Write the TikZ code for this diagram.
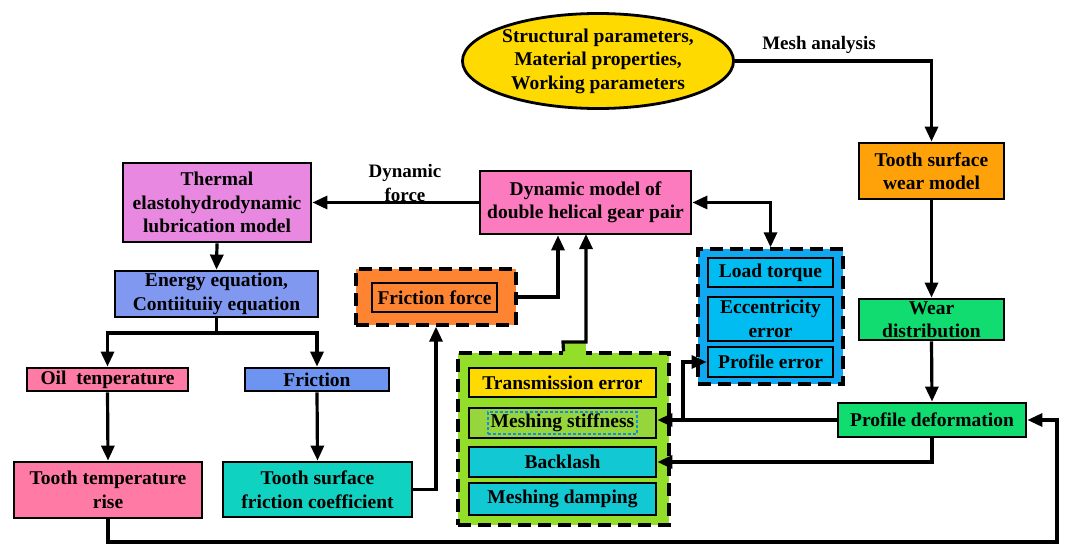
\documentclass[tikz,border=0pt]{standalone}
\usepackage{fontspec}
\setmainfont{Liberation Serif}
\usetikzlibrary{arrows.meta,shapes.geometric,calc}
\definecolor{cyel}{RGB}{255,218,0}
\definecolor{cthermal}{RGB}{232,136,224}
\definecolor{cenergy}{RGB}{128,152,240}
\definecolor{cpink}{RGB}{255,122,165}
\definecolor{cfric}{RGB}{108,148,240}
\definecolor{cteal}{RGB}{16,210,192}
\definecolor{corange}{RGB}{255,132,50}
\definecolor{cdyn}{RGB}{252,122,190}
\definecolor{cbluegrp}{RGB}{16,168,240}
\definecolor{cblue}{RGB}{0,188,240}
\definecolor{cgreengrp}{RGB}{146,222,40}
\definecolor{cstiff}{RGB}{150,214,60}
\definecolor{cturq}{RGB}{18,200,210}
\definecolor{cwear}{RGB}{255,162,10}
\definecolor{cgreen}{RGB}{16,220,112}
\definecolor{cdot}{RGB}{20,140,230}
\begin{document}
\begin{tikzpicture}[x=1pt,y=-1pt,
  every node/.style={font=\fontsize{19.5}{23.5}\selectfont\bfseries,align=center,inner sep=0pt},
  box/.style={draw=black,line width=2.8pt,rectangle},
  grp/.style={draw=black,line width=3.4pt,dash pattern=on 13pt off 7pt,rectangle},
  arr/.style={line width=3.2pt,-{Triangle[length=15pt,width=13pt]}},
  darr/.style={line width=3.2pt,{Triangle[length=15pt,width=13pt]}-{Triangle[length=15pt,width=13pt]}},
  lbl/.style={font=\fontsize{19}{24}\selectfont\bfseries}]
\useasboundingbox (0,0) rectangle (1070,556);
\fill[white] (0,0) rectangle (1070,556);

% groups
\node[grp,fill=corange,minimum width=160pt,minimum height=56pt] (ffg) at (436,297) {};
\node[grp,fill=cbluegrp,minimum width=145pt,minimum height=135pt] (bg) at (770.5,316.5) {};
\node[grp,fill=cgreengrp,minimum width=211pt,minimum height=172pt] (gg) at (563.5,439) {};
\fill[cgreengrp] (563,342) rectangle (586,356);

% main nodes
\node[ellipse,draw=black,line width=2.8pt,fill=cyel,minimum width=237pt,minimum height=95pt] (ell) at (598,61)
  {Structural parameters,\\Material properties,\\Working parameters};
\node[lbl] (mesh) at (819,45) {Mesh analysis};
\node[box,fill=cwear,minimum width=145pt,minimum height=56pt] (wear) at (931.5,171) {Tooth surface\\wear model};
\node[box,fill=cgreen,minimum width=145pt,minimum height=41pt] (wdist) at (931.5,319.5) {Wear\\distribution};
\node[box,fill=cgreen,minimum width=188pt,minimum height=34pt] (pdef) at (932,420) {Profile deformation};

\node[box,fill=cthermal,minimum width=188pt,minimum height=79pt] (therm) at (217,202.5) {Thermal\\elastohydrodynamic\\lubrication model};
\node[box,fill=cenergy,minimum width=203pt,minimum height=46pt] (energy) at (216.5,294) {Energy equation,\\Contiituiiy equation};
\node[box,fill=cpink,minimum width=161pt,minimum height=23pt] (oil) at (107.5,379.5) {Oil~~tenperature};
\node[box,fill=cfric,minimum width=144pt,minimum height=23pt] (fric) at (317,379.5) {Friction};
\node[box,fill=cpink,minimum width=188pt,minimum height=56pt] (ttr) at (108,490) {Tooth temperature\\rise};
\node[box,fill=cteal,minimum width=189pt,minimum height=55pt] (tsfc) at (317.5,489.5) {Tooth surface\\friction coefficient};

\node[box,fill=corange,minimum width=125pt,minimum height=29pt] (ff) at (434.5,297.5) {Friction force};
\node[box,fill=cdyn,minimum width=211pt,minimum height=63pt] (dyn) at (585.5,202.5) {Dynamic model of\\double helical gear pair};
\node[lbl] (dforce) at (405,183) {Dynamic\\force};

\node[box,fill=cblue,minimum width=125pt,minimum height=29pt] (load) at (770.5,272.5) {Load torque};
\node[box,fill=cblue,minimum width=125pt,minimum height=44pt] (ecc) at (770.5,319) {Eccentricity\\error};
\node[box,fill=cblue,minimum width=125pt,minimum height=30pt] (perr) at (770.5,362) {Profile error};

\node[box,fill=cyel,minimum width=187pt,minimum height=29pt] (te) at (562.5,382.5) {Transmission error};
\node[box,fill=cstiff,minimum width=187pt,minimum height=30pt] (ms) at (562.5,423) {};
\node[draw=cdot,line width=1.5pt,dash pattern=on 3pt off 2pt,minimum width=149pt,minimum height=22pt] (mstxt) at (562.5,423) {Meshing stiffness};
\node[box,fill=cturq,minimum width=187pt,minimum height=30pt] (bl) at (562.5,462) {Backlash};
\node[box,fill=cturq,minimum width=187pt,minimum height=32pt] (md) at (562.5,499) {Meshing damping};

% connectors
\draw[arr] (ell.east) -| (wear.north);
\draw[arr] (wear.south) -- (wdist.north);
\draw[arr] (wdist.south) -- (pdef.north);
\draw[arr] (dyn.west) -- (therm.east);
\draw[arr] (therm.south) -- (energy.north);
\coordinate (br) at (216.5,333);
\draw[line width=3.2pt] (energy.south) -- (br);
\draw[arr] (br) -| (oil.north);
\draw[arr] (br) -| (fric.north);
\draw[arr] (oil.south) -- (ttr.north);
\draw[arr] (fric.south) -- (tsfc.north);
\draw[arr] (tsfc.east) -| (ffg.south);
\coordinate (dynin) at (558,234);
\draw[arr] (ffg.east) -| (dyn.south -| dynin);
\draw[arr] (gg.north) -- (563,342) -- (586,342) -- (586,234);
\draw[darr] (dyn.east) -| (bg.north);
\draw[arr] (pdef.west) -- (pdef.west -| ms.east);
\coordinate (j) at (683,420);
\draw[arr] (j) |- (perr.west);
\draw[arr] (pdef.south) |- (bl.east);
\coordinate (rb) at (1057,542);
\draw[arr] (ttr.south) |- (rb) |- (pdef.east);
\end{tikzpicture}
\end{document}
